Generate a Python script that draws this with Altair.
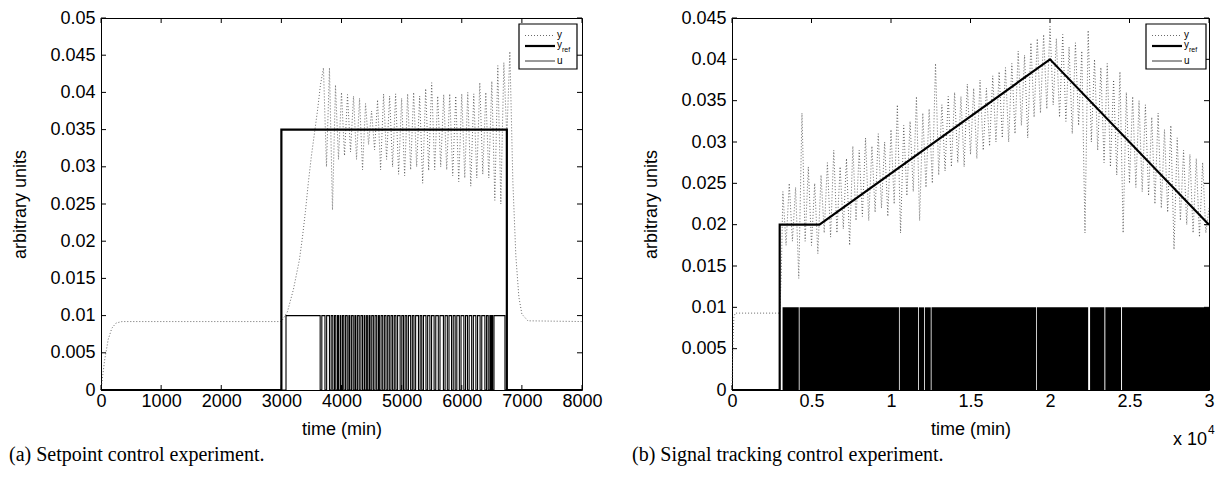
import altair as alt
import pandas as pd

# ---------------- (a) Setpoint control experiment ----------------
a_y_t = [0, 60, 120, 180, 250, 350, 3000, 3100, 3200, 3300, 3350, 3400, 3450, 3500, 3550,
         3600, 3650, 3700,
         3750, 3800, 3850, 3900, 3950, 4000, 4050, 4100, 4150, 4200, 4250, 4300, 4350, 4400,
         4450, 4500, 4550, 4600, 4650, 4700, 4750, 4800, 4850, 4900, 4950, 5000, 5050, 5100,
         5150, 5200, 5250, 5300, 5350, 5400, 5450, 5500, 5550, 5600, 5650, 5700, 5750, 5800,
         5850, 5900, 5950, 6000, 6050, 6100, 6150, 6200, 6250, 6300, 6350, 6400, 6450, 6500,
         6550, 6600, 6650, 6700, 6750, 6800,
         6850, 6900, 6950, 7000, 7100, 8000]
a_y_v = [0.0, 0.004, 0.0068, 0.0083, 0.009, 0.0092, 0.0092, 0.0105, 0.0135, 0.0175, 0.0205,
         0.024, 0.028, 0.0315, 0.0345, 0.0375, 0.041, 0.0433,
         0.0300, 0.0433, 0.0242, 0.0410, 0.0310, 0.0400, 0.0315, 0.0397, 0.0320, 0.0395,
         0.0310, 0.0392, 0.0296, 0.0385, 0.0330, 0.0375, 0.0323, 0.0390, 0.0296, 0.0398,
         0.0310, 0.0395, 0.0300, 0.0398, 0.0290, 0.0392, 0.0288, 0.0398, 0.0296, 0.0400,
         0.0300, 0.0395, 0.0278, 0.0405, 0.0295, 0.0413, 0.0296, 0.0395, 0.0300, 0.0397,
         0.0296, 0.0398, 0.0288, 0.0395, 0.0280, 0.0398, 0.0285, 0.0400, 0.0274, 0.0398,
         0.0285, 0.0413, 0.0290, 0.0400, 0.0285, 0.0415, 0.0255, 0.0436, 0.0250, 0.0440,
         0.0340, 0.0455,
         0.028, 0.018, 0.0125, 0.0102, 0.0093, 0.0092]
a_ref_t = [0, 3000, 3000, 6750, 6750, 8000]
a_ref_v = [0, 0, 0.035, 0.035, 0, 0]
a_u_first_on = 3077
a_u_pulses = [3645, 3725, 3800, 3855, 3905, 3950, 3990, 4040, 4095, 4140, 4195, 4240, 4295,
              4350, 4390, 4430, 4475, 4530, 4585, 4630, 4685, 4740, 4795, 4850, 4905, 4975,
              5030, 5085, 5150, 5205, 5280, 5335, 5405, 5470, 5540, 5610, 5695, 5760, 5830,
              5890, 5960, 6035, 6095, 6165, 6235, 6305, 6385, 6440, 6485]
a_u_tail_t = [6497, 6536, 6719, 8000]
a_u_tail_v = [0, 0.01, 0, 0]
a_xticks = [0, 1000, 2000, 3000, 4000, 5000, 6000, 7000, 8000]
a_yticks = [0, 0.005, 0.01, 0.015, 0.02, 0.025, 0.03, 0.035, 0.04, 0.045, 0.05]

# ---------------- (b) Signal tracking control experiment ----------------
b_y_head_t = [0, 60, 120, 200, 3000, 3100]
b_y_head_v = [0.0, 0.006, 0.0088, 0.0093, 0.0093, 0.014]
b_y_t = [3200, 3400, 3600, 3800, 4000, 4200, 4400, 4600, 4800, 5000, 5200, 5400, 5600, 5800,
         6000, 6200, 6400, 6600, 6800, 7000, 7200, 7400, 7600, 7800, 8000, 8200, 8400, 8600,
         8800, 9000, 9200, 9400, 9600, 9800, 10000, 10200, 10400, 10600, 10800, 11000, 11200,
         11400, 11600, 11800, 12000, 12200, 12400, 12600, 12800, 13000, 13200, 13400, 13600,
         13800, 14000, 14200, 14400, 14600, 14800, 15000, 15200, 15400, 15600, 15800, 16000,
         16200, 16400, 16600, 16800, 17000, 17200, 17400, 17600, 17800, 18000, 18200, 18400,
         18600, 18800, 19000, 19200, 19400, 19600, 19800, 20000, 20200, 20400, 20600, 20800,
         21000, 21200, 21400, 21600, 21800, 22000, 22200, 22400, 22600, 22800, 23000, 23200,
         23400, 23600, 23800, 24000, 24200, 24400, 24600, 24800, 25000, 25200, 25400, 25600,
         25800, 26000, 26200, 26400, 26600, 26800, 27000, 27200, 27400, 27600, 27800, 28000,
         28200, 28400, 28600, 28800, 29000, 29200, 29400, 29600, 29800, 30000]
b_y_v = [0.024, 0.0175, 0.025, 0.018, 0.0245, 0.0135, 0.0335, 0.018, 0.027, 0.0175, 0.025,
         0.0165, 0.026, 0.019, 0.0275, 0.0185, 0.029, 0.019, 0.027, 0.0195, 0.028, 0.0175,
         0.0295, 0.0205, 0.029, 0.021, 0.0305, 0.0205, 0.0295, 0.0215, 0.031, 0.022, 0.030,
         0.021, 0.0315, 0.0225, 0.0345, 0.019, 0.032, 0.0235, 0.0325, 0.024, 0.0355, 0.0205,
         0.0335, 0.0245, 0.034, 0.025, 0.0395, 0.026, 0.0345, 0.0265, 0.0355, 0.027, 0.036,
         0.0275, 0.0355, 0.027, 0.037, 0.0285, 0.0365, 0.028, 0.0375, 0.029, 0.0365, 0.0295,
         0.038, 0.030, 0.0385, 0.0305, 0.039, 0.030, 0.0395, 0.031, 0.041, 0.032, 0.0405,
         0.0305, 0.042, 0.033, 0.0425, 0.0335, 0.043, 0.034, 0.044, 0.0345, 0.0425, 0.033,
         0.043, 0.0325, 0.0415, 0.031, 0.042, 0.032, 0.041, 0.019, 0.0435, 0.030, 0.040,
         0.029, 0.039, 0.0275, 0.0395, 0.027, 0.0375, 0.026, 0.0385, 0.019, 0.036, 0.025,
         0.0355, 0.0245, 0.035, 0.024, 0.0345, 0.0235, 0.033, 0.0225, 0.0335, 0.022, 0.0315,
         0.0215, 0.032, 0.017, 0.0305, 0.0205, 0.029, 0.020, 0.0285, 0.019, 0.028, 0.0185,
         0.0275, 0.019, 0.022]
b_ref_t = [0, 3000, 3000, 5500, 20000, 30000]
b_ref_v = [0, 0, 0.02, 0.02, 0.04, 0.02]
b_u_start = [3180, 4250, 10550, 11750, 12130, 12550, 19170, 22520, 23480, 24530]
b_u_end = [4200, 10500, 11700, 12080, 12500, 19120, 22400, 23420, 24470, 30000]
b_u_level = 0.01
b_xticks = [0, 5000, 10000, 15000, 20000, 25000, 30000]
b_yticks = [0, 0.005, 0.01, 0.015, 0.02, 0.025, 0.03, 0.035, 0.04, 0.045]

FONT = "Liberation Sans"
H = 372
W1 = 481
W2 = 477
one = pd.DataFrame({"d": [0]})


def line_df(ts, vs):
    return pd.DataFrame({"t": ts, "v": vs, "i": list(range(len(ts)))})


def ticks_layers(xs, ys, xax, yax, xticks, yticks, W):
    xd = pd.DataFrame({"v": xticks})
    yd = pd.DataFrame({"v": yticks})
    r = dict(color="black", strokeWidth=1)
    return [
        alt.Chart(xd).mark_rule(**r).encode(x=alt.X("v:Q", scale=xs, axis=xax), y=alt.value(H), y2=alt.value(H - 5)),
        alt.Chart(xd).mark_rule(**r).encode(x=alt.X("v:Q", scale=xs, axis=xax), y=alt.value(0), y2=alt.value(5)),
        alt.Chart(yd).mark_rule(**r).encode(y=alt.Y("v:Q", scale=ys, axis=yax), x=alt.value(0), x2=alt.value(5)),
        alt.Chart(yd).mark_rule(**r).encode(y=alt.Y("v:Q", scale=ys, axis=yax), x=alt.value(W - 5), x2=alt.value(W)),
    ]


def legend_layers(bx0, bx1, lx0, lx1, tx):
    rows = [17.5, 28, 43]
    txt = dict(font=FONT, fontSize=10, align="left", baseline="middle", color="black")
    return [
        alt.Chart(one).mark_rect(fill="white", stroke="black", strokeWidth=1.2).encode(
            x=alt.value(bx0), x2=alt.value(bx1), y=alt.value(6), y2=alt.value(51)),
        alt.Chart(one).mark_rule(color="#444", strokeWidth=0.8, strokeDash=[1, 2]).encode(
            x=alt.value(lx0), x2=alt.value(lx1), y=alt.value(rows[0])),
        alt.Chart(one).mark_rule(color="black", strokeWidth=2.2).encode(
            x=alt.value(lx0), x2=alt.value(lx1), y=alt.value(rows[1])),
        alt.Chart(one).mark_rule(color="black", strokeWidth=0.8).encode(
            x=alt.value(lx0), x2=alt.value(lx1), y=alt.value(rows[2])),
        alt.Chart(one).mark_text(text="y", **txt).encode(x=alt.value(tx), y=alt.value(rows[0] - 1)),
        alt.Chart(one).mark_text(text="y", **txt).encode(x=alt.value(tx), y=alt.value(rows[1] - 1)),
        alt.Chart(one).mark_text(text="ref", font=FONT, fontSize=7, align="left", baseline="middle",
                                 color="black").encode(x=alt.value(tx + 5), y=alt.value(rows[1] + 4)),
        alt.Chart(one).mark_text(text="u", **txt).encode(x=alt.value(tx), y=alt.value(rows[2])),
    ]


def caption_layer(text, dx):
    return alt.Chart(one).mark_text(text=text, font="Liberation Serif", fontSize=20, align="left",
                                    baseline="middle", color="black").encode(
        x=alt.value(dx), y=alt.value(437))


axis_kw = dict(labelFlush=False, labelOverlap=False)

# ---------- panel (a) ----------
xs_a = alt.Scale(domain=[0, 8000], nice=False, zero=False)
ys_a = alt.Scale(domain=[0, 0.05], nice=False, zero=False)
xax_a = alt.Axis(values=a_xticks, title="time (min)", format="d", labelPadding=2, titlePadding=10, **axis_kw)
yax_a = alt.Axis(values=a_yticks, title="arbitrary units", format="~g", labelPadding=6, titlePadding=20, **axis_kw)

a_u_t = [0, a_u_first_on]
a_u_v = [0, 0.01]
for p in a_u_pulses:
    a_u_t += [p, p + 28]
    a_u_v += [0, 0.01]
a_u_t += a_u_tail_t
a_u_v += a_u_tail_v

a_layers = [
    alt.Chart(line_df(a_y_t, a_y_v)).mark_line(color="#444", strokeWidth=0.8, strokeDash=[1, 2]).encode(
        x=alt.X("t:Q", scale=xs_a, axis=xax_a),
        y=alt.Y("v:Q", scale=ys_a, axis=yax_a),
        order="i:Q"),
    alt.Chart(line_df(a_u_t, a_u_v)).mark_line(color="black", strokeWidth=1.1, interpolate="step-after").encode(
        x=alt.X("t:Q", scale=xs_a, axis=xax_a), y=alt.Y("v:Q", scale=ys_a, axis=yax_a), order="i:Q"),
    alt.Chart(line_df(a_ref_t, a_ref_v)).mark_line(color="black", strokeWidth=2.2).encode(
        x=alt.X("t:Q", scale=xs_a, axis=xax_a), y=alt.Y("v:Q", scale=ys_a, axis=yax_a), order="i:Q"),
] + ticks_layers(xs_a, ys_a, xax_a, yax_a, a_xticks, a_yticks, W1) + legend_layers(418, 476, 424, 454, 456) + [
    caption_layer("(a) Setpoint control experiment.", -92)]

left = alt.layer(*a_layers).properties(width=W1, height=H)

# ---------- panel (b) ----------
xs_b = alt.Scale(domain=[0, 30000], nice=False, zero=False)
ys_b = alt.Scale(domain=[0, 0.045], nice=False, zero=False)
xax_b = alt.Axis(values=b_xticks, title="time (min)", labelExpr="datum.value / 10000",
                 labelPadding=2, titlePadding=10, **axis_kw)
yax_b = alt.Axis(values=b_yticks, title="arbitrary units", format="~g", labelPadding=6, titlePadding=20, **axis_kw)

b_u_df = pd.DataFrame({"s": b_u_start, "e": b_u_end, "lo": [0] * len(b_u_start),
                       "hi": [b_u_level] * len(b_u_start)})

b_layers = [
    alt.Chart(line_df(b_y_head_t + b_y_t, b_y_head_v + b_y_v)).mark_line(
        color="#444", strokeWidth=0.8, strokeDash=[1, 2]).encode(
        x=alt.X("t:Q", scale=xs_b, axis=xax_b),
        y=alt.Y("v:Q", scale=ys_b, axis=yax_b),
        order="i:Q"),
    alt.Chart(b_u_df).mark_rect(color="black").encode(
        x=alt.X("s:Q", scale=xs_b, axis=xax_b), x2="e:Q",
        y=alt.Y("lo:Q", scale=ys_b, axis=yax_b), y2="hi:Q"),
    alt.Chart(line_df(b_ref_t, b_ref_v)).mark_line(color="black", strokeWidth=2.2).encode(
        x=alt.X("t:Q", scale=xs_b, axis=xax_b), y=alt.Y("v:Q", scale=ys_b, axis=yax_b), order="i:Q"),
] + ticks_layers(xs_b, ys_b, xax_b, yax_b, b_xticks, b_yticks, W2) + legend_layers(414, 474, 420, 450, 452) + [
    caption_layer("(b) Signal tracking control experiment.", -100),
    alt.Chart(one).mark_text(text="x 10", font=FONT, fontSize=18, align="right", baseline="middle",
                             color="black").encode(x=alt.value(475), y=alt.value(422)),
    alt.Chart(one).mark_text(text="4", font=FONT, fontSize=12, align="left", baseline="middle",
                             color="black").encode(x=alt.value(476), y=alt.value(412)),
]

right = alt.layer(*b_layers).properties(width=W2, height=H)

chart = alt.hconcat(left, right, spacing=150, bounds="flush").properties(
    padding={"left": 0, "top": 0, "right": 0, "bottom": 0}
).configure_view(stroke="black", strokeWidth=1).configure_axis(
    labelFont=FONT, titleFont=FONT, labelFontSize=18, titleFontSize=18,
    titleFontWeight="normal", labelColor="black", titleColor="black",
    domain=False, ticks=False, grid=False)

chart.save("out.html", embed_options={"renderer": "svg", "actions": False})
